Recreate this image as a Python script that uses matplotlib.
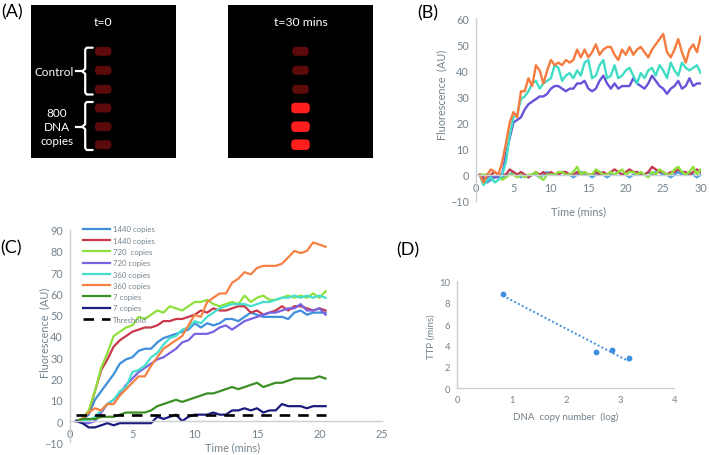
import numpy as np
import matplotlib
matplotlib.use("Agg")
import matplotlib.pyplot as plt
from matplotlib.patches import FancyBboxPatch

plt.rcParams["font.family"] = ["Lato", "DejaVu Sans"]

# ---- panel A: well intensities (0..1) ----
wells_t0 = [0.22, 0.22, 0.2, 0.2, 0.18, 0.18]
wells_t30 = [0.24, 0.22, 0.22, 1.0, 1.0, 1.0]

# ---- panel B: fluorescence vs time (0.5 .. 30 min) ----
b_orange = [0, -3, 0, 2, 1, 0, 5, 12, 20, 24, 22, 32, 32, 37, 34, 42, 40, 35, 40, 44,
            42, 43, 42, 44, 43, 44, 48, 45, 48, 45, 47, 50, 46, 48, 49, 49, 46, 44, 48, 46,
            49, 46, 48, 49, 47, 45, 48, 50, 52, 54, 47, 45, 48, 52, 47, 43, 48, 50, 47, 53]
b_turq = [0, -4, -2, -1, -3, -2, 0, 5, 15, 22, 23, 29, 30, 32, 35, 36, 33, 35, 36, 37,
          42, 41, 36, 38, 39, 37, 40, 38, 43, 44, 37, 38, 42, 44, 37, 38, 42, 37, 38, 40,
          41, 38, 35, 39, 37, 40, 41, 38, 42, 40, 37, 43, 40, 38, 43, 41, 40, 41, 42, 39]
b_purple = [0, -2, -1, -1, -1, -1, 0, 8, 14, 20, 21, 22, 25, 27, 28, 29, 30, 30, 31, 33,
            34, 34, 33, 32, 33, 33, 35, 35, 36, 33, 32, 33, 36, 38, 35, 33, 35, 33, 34, 34,
            34, 37, 35, 34, 33, 35, 38, 36, 34, 33, 31, 33, 34, 36, 33, 34, 37, 34, 35, 35]
b_blue = [0, -2, -3, -2, -1, 0, -1, 0, 0, 1, 0, -1, 0, -1, 0, 0, -1, 0, 1, 0,
          0, 0, 1, 0, 0, -1, 0, 1, 0, 0, -1, 0, 1, 0, -1, 0, 0, 1, 0, 0,
          -1, 0, 1, 0, 0, 1, 0, 1, 1, 0, 0, -1, 0, 1, 0, 0, 1, 0, -1, 0]
b_red = [0, -1, -2, 0, 1, 0, 0, 0, 2, 1, 0, 1, 0, -1, 0, 1, 0, 1, 0, 1,
         0, 0, 1, 1, 0, 0, 1, 0, 1, 0, 0, 1, 0, 1, 0, 1, 2, 1, 0, 1,
         2, 1, 1, 0, 0, 1, 3, 2, 1, 1, 0, 1, 1, 2, 1, 1, 0, 1, 2, 1]
b_green = [0, 0, 0, -1, -1, 0, -2, -1, 0, 0, -1, 0, -1, 0, 0, 1, -1, -2, 0, 0,
           0, 1, 1, 0, 0, 1, 3, 0, 1, 0, 0, 2, 1, 0, 0, 1, 0, 1, 2, 0,
           1, 1, 0, 1, 0, -1, 1, 0, 2, 1, 0, 0, 2, 3, 1, 0, 1, 3, 0, 2]

# ---- panel C: fluorescence vs time (0.5 .. 20.5 min) ----
c_labels = ["1440 copies", "1440 copies", "720  copies", "720 copies",
            "360 copies", "360 copies", "7 copies", "7 copies"]
c_blue = [0, 1, 3, 10, 14, 18, 22, 27, 29, 30, 33, 34, 34, 37, 39, 40, 41, 42, 43, 46, 44,
          46, 45, 46, 48, 48, 47, 49, 51, 50, 49, 49, 49, 49, 48, 51, 52, 50, 51, 51, 51]
c_red = [0, 1, 4, 14, 24, 29, 35, 38, 40, 42, 43, 44, 44, 45, 47, 47, 48, 48, 49, 50, 52,
         51, 53, 52, 52, 53, 54, 54, 51, 52, 50, 51, 52, 54, 52, 54, 54, 53, 52, 53, 52]
c_lgreen = [0, 1, 5, 14, 25, 32, 40, 42, 44, 45, 49, 48, 50, 52, 51, 54, 53, 52, 54, 56, 56,
            57, 55, 54, 55, 56, 55, 59, 56, 58, 59, 57, 57, 58, 59, 58, 59, 58, 60, 58, 61]
c_purple = [0, -1, -1, 0, 4, 8, 10, 13, 17, 20, 23, 25, 27, 29, 30, 32, 34, 37, 38, 41, 41,
            41, 42, 44, 45, 43, 45, 47, 48, 49, 50, 51, 51, 52, 53, 53, 55, 52, 52, 53, 50]
c_turq = [0, 0, 0, 2, 5, 8, 10, 14, 16, 23, 24, 26, 30, 32, 36, 39, 40, 43, 44, 47, 46,
          49, 51, 53, 54, 55, 55, 55, 54, 55, 56, 56, 57, 58, 58, 59, 58, 59, 58, 59, 58]
c_orange = [0, 1, 4, 6, 5, 8, 8, 12, 15, 18, 21, 21, 26, 30, 34, 36, 38, 40, 45, 50, 49,
            56, 58, 60, 60, 65, 67, 70, 69, 72, 73, 73, 73, 74, 77, 80, 79, 80, 84, 83, 82]
c_dgreen = [0, 1, 1, 1, 2, 2, 2, 3, 4, 4, 4, 4, 5, 7, 8, 9, 10, 9, 10, 11, 12,
            13, 13, 14, 15, 16, 15, 16, 17, 18, 16, 17, 18, 18, 19, 20, 20, 20, 20, 21, 20]
c_navy = [0, -1, -3, -3, -2, -1, -2, -1, -1, -1, -1, -1, -1, 2, 1, 2, 3, 0, 2, 3, 3,
          3, 4, 3, 3, 5, 5, 6, 5, 6, 4, 5, 5, 8, 7, 7, 7, 6, 7, 7, 7]
threshold = 3

# ---- panel D: time to positive vs log copy number ----
d_logcopies = [0.84, 2.56, 2.86, 3.16]
d_ttp = [8.8, 3.4, 3.6, 2.8]

grey_txt = "#74828c"
grey_ax = "#c9d1d6"

W, H = 709, 456
fig = plt.figure(figsize=(W / 100, H / 100), dpi=100)


def px_axes(x0, y0, x1, y1):
    return fig.add_axes([x0 / W, 1 - y1 / H, (x1 - x0) / W, (y1 - y0) / H])


def excel_style(ax, fs):
    for s in ["top", "right"]:
        ax.spines[s].set_visible(False)
    ax.spines["left"].set_color(grey_ax)
    ax.spines["bottom"].set_color(grey_ax)
    ax.spines["left"].set_linewidth(1.0)
    ax.spines["bottom"].set_linewidth(1.0)
    ax.tick_params(length=0, labelsize=fs, labelcolor=grey_txt, pad=5)
    ax.set_facecolor("none")


# ================= panel A =================
def draw_plate(ax, levels, title):
    ax.set_facecolor("black")
    ax.set_xlim(0, 145)
    ax.set_ylim(153.6, 0)
    ax.set_xticks([])
    ax.set_yticks([])
    for s in ax.spines.values():
        s.set_visible(False)
    ys = [46.6, 65.6, 84.6, 103.3, 122, 140]
    for y, lv in zip(ys, levels):
        if lv < 1:
            w, h, col = 16.5, 9.0, (0.3 + 0.3 * lv, 0.04, 0.04)
        else:
            w, h, col = 18.5, 10.5, "#ff1e1e"
        ax.add_patch(FancyBboxPatch((72.5 - w / 2, y - h / 2), w, h,
                                    boxstyle="round,pad=0,rounding_size=4",
                                    fc=col, ec="none"))
    ax.text(72.5, 16.6, title, color="white", ha="center", va="center", fontsize=8.8)


axA1 = px_axes(30.7, 5.7, 175.7, 159.3)
draw_plate(axA1, wells_t0, "t=0")
axA2 = px_axes(228, 5.7, 373, 159.3)
draw_plate(axA2, wells_t30, "t=30 mins")


def brace(ax, top, mid, bot):
    xs = [62, 56, 54.5, 54.5, 51.5, 54.5, 54.5, 56, 62]
    ys = [top, top, top + 2, mid - 2.5, mid, mid + 2.5, bot - 2, bot, bot]
    ax.plot(xs, ys, color="white", lw=1.6, solid_capstyle="round", solid_joinstyle="round")
    ax.plot([45.3, 50.5], [mid, mid], color="white", lw=1.6)


brace(axA1, 43.0, 66.6, 89.8)
brace(axA1, 97.3, 122, 145.3)
axA1.text(23.8, 66.6, "Control", color="white", ha="center", va="center", fontsize=8.5)
for txt, y in zip(["800", "DNA", "copies"], [108.0, 122, 135.8]):
    axA1.text(26.3, y, txt, color="white", ha="center", va="center", fontsize=8.5)

fig.text(1 / W, 1 - 12 / H, "(A)", fontsize=13, va="center", ha="left")

# ================= panel B =================
axB = px_axes(476, 19.3, 700.7, 201.7)
tB = np.linspace(0.5, 30, len(b_orange))
for ys, c in [(b_blue, "#4a9be3"), (b_red, "#c23b55"), (b_green, "#8ee03c"),
              (b_purple, "#6553d9"), (b_turq, "#41dcc4"), (b_orange, "#f67b3f")]:
    axB.plot(tB, ys, color=c, lw=1.7, solid_joinstyle="round")
axB.set_xlim(0, 30)
axB.set_ylim(-10, 60)
axB.set_xticks(range(0, 31, 5))
axB.set_yticks(range(-10, 61, 10))
excel_style(axB, 7.8)
axB.spines["bottom"].set_position(("data", 0))
axB.text(0.455, -0.055, "Time (mins)", transform=axB.transAxes, ha="center", va="center",
         fontsize=7.8, color=grey_txt)
axB.text(-0.153, 0.585, "Fluorescence  (AU)", transform=axB.transAxes, ha="center",
         va="center", rotation=90, fontsize=7.8, color=grey_txt)
fig.text(417 / W, 1 - 13 / H, "(B)", fontsize=13, va="center", ha="left")

# ================= panel C =================
axC = px_axes(70, 230.7, 381.7, 443.3)
tC = np.linspace(0.5, 20.5, len(c_blue))
c_series = [c_blue, c_red, c_lgreen, c_purple, c_turq, c_orange, c_dgreen, c_navy]
c_colors = ["#3f8fdc", "#c8374b", "#8ee03c", "#7763e3", "#44e0cc", "#f58142", "#3b8f24", "#1c1c80"]
for ys, c, lab in zip(c_series, c_colors, c_labels):
    axC.plot(tC, ys, color=c, lw=1.6, label=lab, solid_joinstyle="round")
axC.plot([tC[0], tC[-1]], [threshold, threshold], color="black", lw=1.9,
         dashes=(4, 3), label="Threshold")
axC.set_xlim(0, 25)
axC.set_ylim(-10, 90)
axC.set_xticks(range(0, 26, 5))
axC.set_yticks(range(-10, 91, 10))
excel_style(axC, 7.8)
axC.spines["bottom"].set_position(("data", 0))
leg = axC.legend(loc="upper left", bbox_to_anchor=(0.042, 1.02), frameon=False,
                 fontsize=5.6, handlelength=3.4, handletextpad=0.4, labelspacing=0.55,
                 borderpad=0, borderaxespad=0)
for t in leg.get_texts():
    t.set_color(grey_txt)
axC.text(0.523, -0.02, "Time (mins)", transform=axC.transAxes, ha="center", va="center",
         fontsize=7.8, color=grey_txt)
axC.text(-0.08, 0.519, "Fluorescence  (AU)", transform=axC.transAxes, ha="center",
         va="center", rotation=90, fontsize=7.8, color=grey_txt)
fig.text(0 / W, 1 - 248 / H, "(C)", fontsize=13, va="center", ha="left")

# ================= panel D =================
axD = px_axes(457.3, 282.3, 674.3, 389.3)
slope, icpt = np.polyfit(d_logcopies, d_ttp, 1)
xfit = np.array([min(d_logcopies), max(d_logcopies)])
axD.plot(xfit, slope * xfit + icpt, color="#3f8fe0", lw=1.4, ls=(0, (1, 1.2)))
axD.plot(d_logcopies, d_ttp, "o", color="#3f8fe0", ms=4.2, mec="none")
axD.set_xlim(0, 4)
axD.set_ylim(0, 10)
axD.set_xticks(range(0, 5))
axD.set_yticks(range(0, 11, 2))
excel_style(axD, 6.8)
axD.text(0.5, -0.265, "DNA  copy number  (log)", transform=axD.transAxes, ha="center",
         va="center", fontsize=7, color=grey_txt)
axD.text(-0.121, 0.49, "TTP (mins)", transform=axD.transAxes, ha="center", va="center",
         rotation=90, fontsize=7, color=grey_txt)
fig.text(396 / W, 1 - 250 / H, "(D)", fontsize=13, va="center", ha="left")

fig.savefig("out.png", dpi=100)
